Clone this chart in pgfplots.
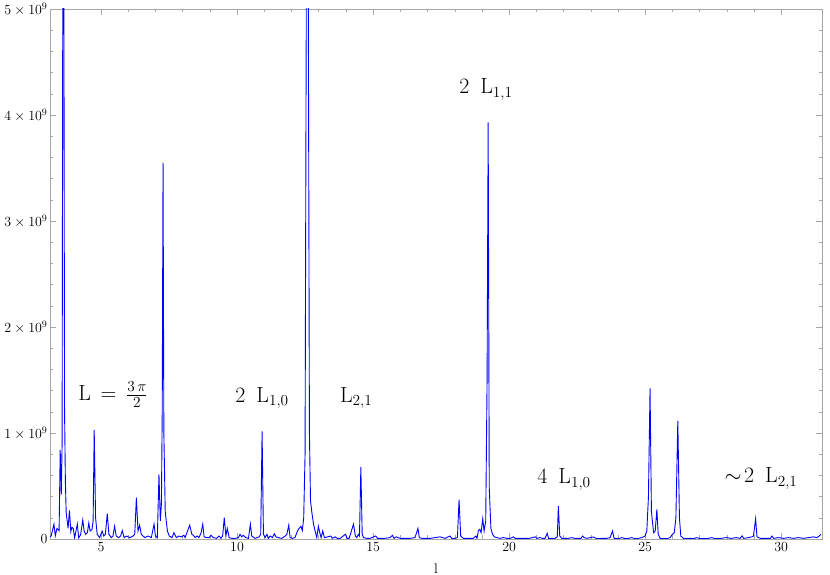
\documentclass[border=0pt]{standalone}
\usepackage{fix-cm}
\usepackage{pgfplots}
\pgfplotsset{compat=1.18}
\begin{document}
\begin{tikzpicture}
\begin{axis}[
  scale only axis,
  width=772bp, height=530bp,
  xmin=3.125, xmax=31.5,
  ymin=0, ymax=5,
  xtick={5,10,15,20,25,30},
  ytick={0,1,2,3,4,5},
  yticklabels={0,$1\times10^{9}$,$2\times10^{9}$,$3\times10^{9}$,$4\times10^{9}$,$5\times10^{9}$},
  tick label style={font=\fontsize{14}{16}\selectfont},
  yticklabel style={xshift=1bp},
  minor x tick num=4,
  minor y tick num=4,
  tick align=inside,
  major tick length=6bp,
  minor tick length=3.5bp,
  axis line style={gray!70},
  every tick/.style={gray!70},
  xlabel={l},
  xlabel style={font=\fontsize{14}{16}\selectfont, yshift=-5bp},
  clip=true,
]
\addplot[blue, line width=0.9bp] coordinates {
(3.13,0.02)(3.17,0.03)(3.27,0.14)(3.32,0.03)(3.38,0.10)(3.42,0.09)(3.46,0.08)(3.50,0.84)(3.54,0.42)(3.57,0.9)(3.60,6)(3.63,6)(3.66,1.2)(3.69,0.55)(3.72,0.25)(3.79,0.10)(3.84,0.27)(3.89,0.07)(3.93,0.11)(3.98,0.10)(4.03,0.01)(4.08,0.075)(4.13,0.14)(4.18,0.01)(4.25,0.04)(4.33,0.18)(4.38,0.075)(4.44,0.044)(4.50,0.06)(4.55,0.15)(4.60,0.075)(4.67,0.09)(4.71,0.17)(4.75,1.03)(4.80,0.2)(4.86,0.044)(4.95,0.013)(5.04,0.075)(5.10,0.028)(5.16,0.044)(5.23,0.24)(5.29,0.044)(5.38,0.013)(5.44,0.028)(5.50,0.12)(5.56,0.028)(5.65,0.013)(5.72,0.028)(5.78,0.08)(5.85,0.013)(5.93,0.028)(6.06,0.013)(6.18,0.028)(6.24,0.044)(6.30,0.39)(6.36,0.075)(6.42,0.13)(6.48,0.044)(6.61,0.013)(6.73,0.028)(6.85,0.013)(6.95,0.14)(7.00,0.028)(7.07,0.013)(7.13,0.61)(7.18,0.17)(7.22,0.33)(7.25,1.2)(7.28,3.55)(7.31,1.0)(7.36,0.26)(7.44,0.075)(7.51,0.028)(7.61,0.013)(7.68,0.06)(7.77,0.013)(7.86,0.028)(7.95,0.02)(8.05,0.035)
(8.09,0.013)(8.26,0.13)(8.34,0.044)(8.39,0.035)(8.46,0.013)(8.53,0.028)(8.60,0.013)(8.68,0.06)(8.74,0.14)(8.79,0.02)(8.89,0.013)(8.97,0.013)(9.04,0.035)(9.13,0.013)(9.25,0.006)(9.34,0.028)(9.41,0.006)(9.47,0.028)(9.53,0.2)(9.59,0.028)(9.64,0.10)(9.71,0.013)(9.81,0.006)(9.93,0.006)(10.05,0.013)(10.11,0.044)(10.17,0.02)(10.23,0.035)(10.32,0.013)(10.42,0.006)(10.49,0.14)(10.54,0.028)(10.66,0.006)(10.81,0.02)(10.87,0.044)(10.92,1.015)(10.97,0.044)(11.03,0.013)(11.10,0.044)(11.15,0.006)(11.22,0.028)(11.30,0.013)(11.37,0.05)(11.43,0.02)(11.52,0.013)(11.64,0.006)(11.77,0.028)(11.83,0.044)(11.90,0.13)(11.95,0.013)(12.03,0.006)(12.13,0.013)(12.22,0.075)(12.28,0.10)(12.35,0.12)(12.40,0.08)(12.45,0.2)(12.50,0.8)(12.55,5.5)(12.60,7)(12.66,1.0)(12.70,0.36)(12.75,0.25)(12.81,0.14)(12.87,0.075)(12.93,0.013)(12.99,0.12)(13.04,0.06)
(13.09,0.013)(13.15,0.075)(13.21,0.013)(13.33,0.02)(13.45,0.028)(13.50,0.006)(13.60,0.02)(13.69,0.006)(13.79,0.006)(13.98,0.044)(14.05,0.006)(14.12,0.006)(14.28,0.14)(14.35,0.028)(14.40,0.013)(14.46,0.044)(14.50,0.028)(14.55,0.677)(14.60,0.044)(14.65,0.013)(14.77,0.006)(14.89,0.006)(15.01,0.02)(15.10,0.028)(15.16,0.006)(15.26,0.006)(15.44,0.006)(15.63,0.013)(15.71,0.035)(15.77,0.006)(15.85,0.02)(16.00,0.006)(16.18,0.006)(16.36,0.006)(16.54,0.013)(16.65,0.10)(16.70,0.013)(16.79,0.006)(16.91,0.006)(17.10,0.006)(17.28,0.013)(17.46,0.02)(17.65,0.006)(17.76,0.02)(17.83,0.028)(17.89,0.006)(18.02,0.006)(18.10,0.013)(18.16,0.37)(18.22,0.028)
(18.32,0.006)(18.49,0.006)(18.68,0.006)(18.78,0.028)(18.82,0.006)(18.87,0.08)(18.92,0.09)(18.97,0.06)(19.03,0.19)(19.08,0.075)(19.14,0.17)(19.19,1.5)(19.23,3.93)(19.27,0.48)(19.33,0.1)(19.39,0.044)(19.46,0.02)(19.55,0.013)(19.67,0.006)(19.79,0.013)(19.92,0.006)(20.04,0.006)(20.16,0.02)(20.22,0.006)(20.34,0.006)(20.47,0.006)(20.59,0.006)(20.74,0.006)(20.86,0.013)(20.96,0.02)(21.02,0.006)(21.14,0.013)(21.22,0.006)(21.32,0.006)(21.40,0.053)(21.45,0.006)(21.57,0.006)(21.69,0.006)(21.77,0.02)(21.81,0.31)(21.86,0.028)(21.94,0.006)(22.06,0.006)(22.18,0.006)(22.31,0.013)(22.40,0.006)(22.53,0.006)(22.64,0.006)(22.70,0.028)(22.76,0.013)(22.86,0.006)(22.98,0.013)
(23.10,0.019)(23.22,0.003)(23.41,0.006)(23.59,0.006)(23.71,0.013)(23.80,0.075)(23.86,0.006)(24.02,0.003)(24.14,0.013)(24.27,0.003)(24.39,0.006)(24.51,0.013)(24.63,0.003)(24.75,0.006)(24.88,0.013)(25.00,0.028)(25.06,0.075)(25.12,0.39)(25.18,1.42)(25.23,0.26)(25.31,0.06)(25.37,0.075)(25.43,0.28)(25.48,0.044)(25.55,0.006)(25.67,0.003)(25.80,0.003)(25.92,0.013)(25.99,0.04)(26.07,0.06)(26.13,0.2)(26.20,1.115)(26.26,0.2)(26.31,0.028)(26.41,0.006)(26.53,0.003)(26.65,0.006)(26.78,0.003)(26.90,0.013)(27.02,0.003)(27.21,0.003)(27.33,0.006)(27.45,0.013)(27.57,0.003)
(27.79,0.006)(27.98,0.013)(28.16,0.006)(28.35,0.013)(28.49,0.006)(28.56,0.03)(28.62,0.006)(28.80,0.013)(28.92,0.02)(28.98,0.028)(29.06,0.19)(29.11,0.02)(29.23,0.006)(29.47,0.006)(29.60,0.006)(29.66,0.028)(29.72,0.006)(29.90,0.013)(30.09,0.006)(30.27,0.013)(30.45,0.006)(30.64,0.013)(30.82,0.006)(31.00,0.013)(31.19,0.02)(31.31,0.013)(31.40,0.028)(31.46,0.044)
};
\tikzset{lab/.style={font=\fontsize{22}{26}\selectfont}}
\node[lab] at (axis cs:5.44,1.36) {$\mathrm{L}\,=\,\frac{3\,\pi}{2}$};
\node[lab] at (axis cs:10.92,1.33) {$2\enspace\mathrm{L}_{1,0}$};
\node[lab] at (axis cs:14.38,1.33) {$\mathrm{L}_{2,1}$};
\node[lab] at (axis cs:19.15,4.24) {$2\enspace\mathrm{L}_{1,1}$};
\node[lab] at (axis cs:22.02,0.56) {$4\enspace\mathrm{L}_{1,0}$};
\node[lab] at (axis cs:29.26,0.57) {$\sim\!2\enspace\mathrm{L}_{2,1}$};
\end{axis}
\pgfresetboundingbox
\useasboundingbox ([xshift=-50bp,yshift=-36bp]current axis.south west) rectangle ([xshift=8bp,yshift=9bp]current axis.north east);
\end{tikzpicture}
\end{document}
